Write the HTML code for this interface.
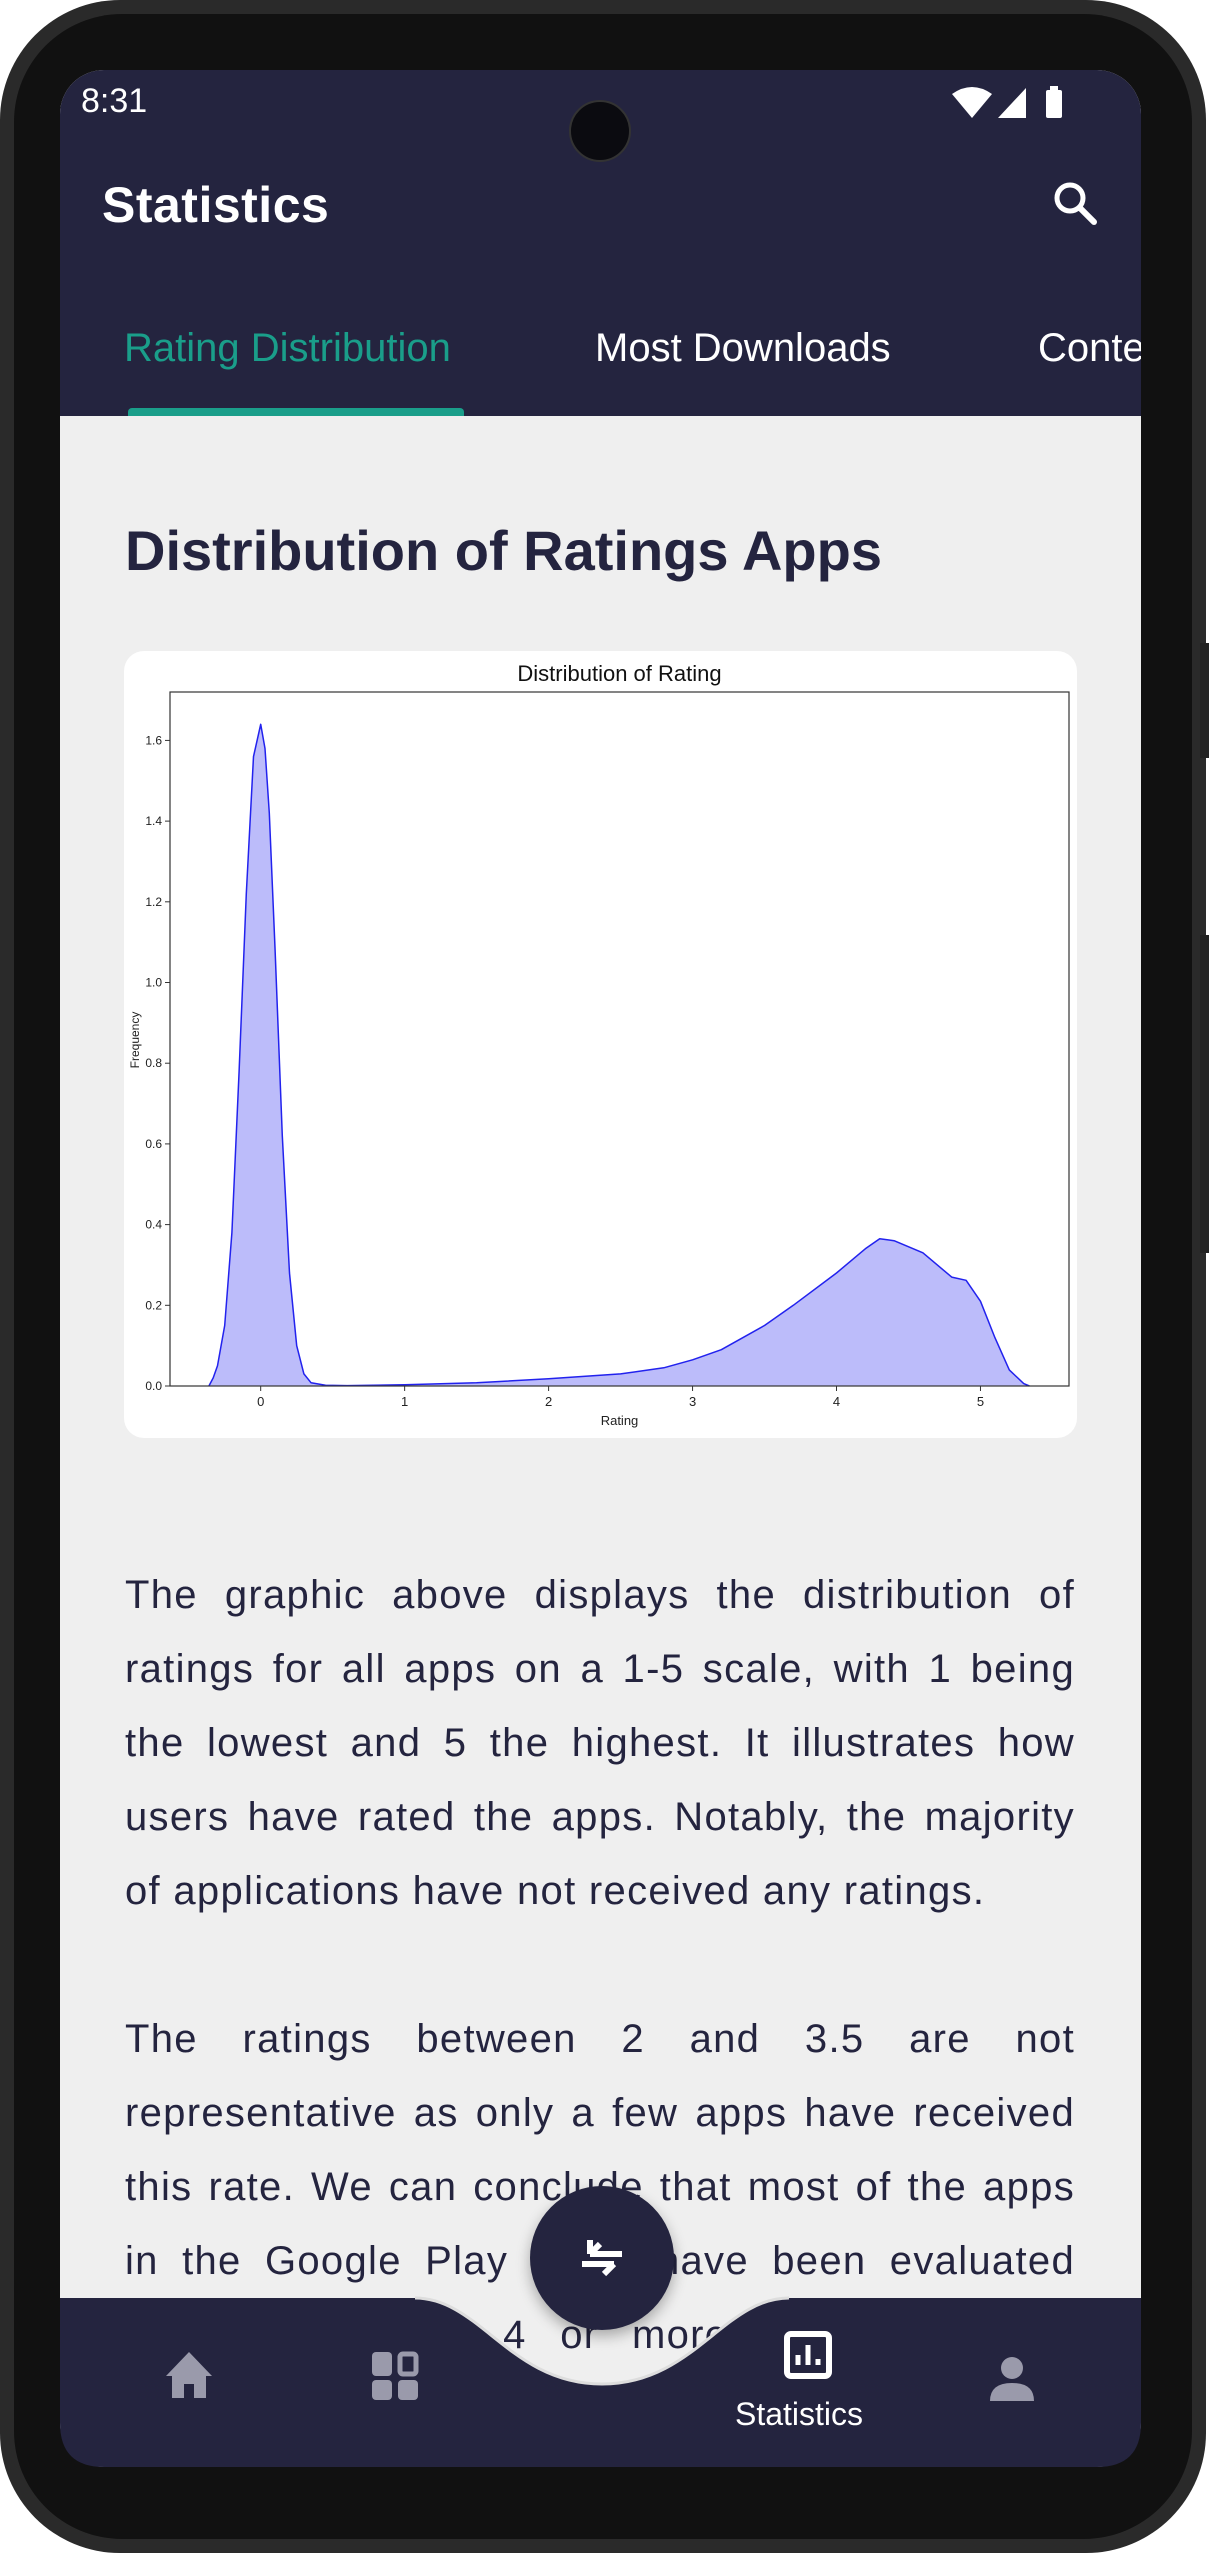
<!DOCTYPE html>
<html><head><meta charset="utf-8">
<style>
html,body{margin:0;padding:0;width:1209px;height:2553px;overflow:hidden;background:#fff;font-family:"Liberation Sans",sans-serif}
.abs{position:absolute}
.line{position:absolute;left:125px;width:950px;font-size:40px;color:#24243f;text-align:justify;text-align-last:justify;white-space:nowrap;line-height:48px;letter-spacing:1.3px}
</style></head><body>
<div class="abs" style="left:0;top:0;width:1206px;height:2553px;background:#2a2a2a;border-radius:120px;"></div>
<div class="abs" style="left:14px;top:14px;width:1178px;height:2525px;background:#111;border-radius:108px;"></div>
<div class="abs" style="left:1200px;top:643px;width:9px;height:115px;background:#222;"></div>
<div class="abs" style="left:1200px;top:935px;width:9px;height:318px;background:#222;"></div>

<div class="abs" style="left:60px;top:70px;width:1081px;height:2397px;background:#efefef;border-radius:44px;overflow:hidden;">
  <div class="abs" style="left:0;top:0;width:1081px;height:346px;background:#24243f;"></div>
  <div class="abs" style="left:21px;top:12px;font-size:34px;color:#fff;">8:31</div>
  <div class="abs" style="left:509px;top:30px;width:62px;height:62px;border-radius:50%;background:#0b0b10;border:2px solid #333;box-sizing:border-box"></div>
  <svg class="abs" style="left:890px;top:14px" width="120" height="40">
    <path d="M2 10 Q22 -4 42 10 L22 34 Z" fill="#fff"/>
    <path d="M48 34 L76 4 L76 34 Z" fill="#fff"/>
    <rect x="96" y="6" width="16" height="28" rx="2" fill="#fff"/><rect x="100" y="2" width="8" height="5" fill="#fff"/>
  </svg>
  <div class="abs" style="left:42px;top:106px;font-size:50px;font-weight:bold;color:#fff;letter-spacing:0.5px">Statistics</div>
  <svg class="abs" style="left:990px;top:108px" width="50" height="50"><circle cx="20" cy="20" r="13" stroke="#fff" stroke-width="5" fill="none"/><line x1="30" y1="30" x2="44" y2="44" stroke="#fff" stroke-width="6" stroke-linecap="round"/></svg>
  <div class="abs" style="left:64px;top:256px;font-size:40px;color:#1a9e8a;">Rating Distribution</div>
  <div class="abs" style="left:68px;top:338px;width:336px;height:8px;background:#1a9e8a;border-radius:4px 4px 0 0"></div>
  <div class="abs" style="left:535px;top:256px;font-size:40px;color:#fff;">Most Downloads</div>
  <div class="abs" style="left:978px;top:256px;font-size:40px;color:#fff;white-space:nowrap">Content Rating</div>

  <div class="abs" style="left:65px;top:448px;font-size:56px;font-weight:bold;color:#24243f;">Distribution of Ratings Apps</div>

  <div class="abs" style="left:64px;top:581px;width:953px;height:787px;background:#fff;border-radius:20px;"></div>
</div>

<svg class="abs" id="chart" style="left:0;top:0" width="1209" height="1500"></svg>

<div>
<div class="line" style="top:1571px">The graphic above displays the distribution of</div>
<div class="line" style="top:1645px">ratings for all apps on a 1-5 scale, with 1 being</div>
<div class="line" style="top:1719px">the lowest and 5 the highest. It illustrates how</div>
<div class="line" style="top:1793px">users have rated the apps. Notably, the majority</div>
<div class="line" style="top:1867px;text-align-last:left;width:auto">of applications have not received any ratings.</div>
<div class="line" style="top:2015px">The ratings between 2 and 3.5 are not</div>
<div class="line" style="top:2089px">representative as only a few apps have received</div>
<div class="line" style="top:2163px">this rate. We can conclude that most of the apps</div>
<div class="line" style="top:2237px">in the Google Play Store have been evaluated</div>
<div class="line" style="top:2311px">with a rating of 4 or more by their users.</div>
</div>

<svg class="abs" style="left:60px;top:2290px" width="1081" height="177">
  <defs><clipPath id="sc"><path d="M0 0 H1081 V133 Q1081 177 1037 177 H44 Q0 177 0 133 Z"/></clipPath></defs>
  <g clip-path="url(#sc)">
  <path d="M0 8 H355 C420 8 450 94 542 94 C634 94 664 8 729 8 H1081 V177 H0 Z" fill="#24243f"/>
  </g>
  <path d="M355 8 C420 8 450 94 542 94 C634 94 664 8 729 8" fill="none" stroke="#ddd" stroke-width="3"/>
</svg>
<div class="abs" style="left:530px;top:2186px;width:144px;height:144px;border-radius:50%;background:#24243f;box-shadow:0 6px 14px rgba(0,0,0,0.3)">
  <svg width="144" height="144"><path d="M60 68 H92 M60 68 L70 58 M60 68 V54" stroke="#fff" stroke-width="6" fill="none"/><path d="M52 78 H84 M84 78 L74 88 M52 78" stroke="#fff" stroke-width="6" fill="none"/></svg>
</div>
<svg class="abs" style="left:164px;top:2350px" width="50" height="50"><path d="M25 2 L48 26 H42 V48 H30 V34 H20 V48 H8 V26 H2 Z" fill="#9a9aab"/></svg>
<svg class="abs" style="left:370px;top:2350px" width="50" height="52"><rect x="2" y="2" width="20" height="24" rx="4" fill="#9a9aab"/><rect x="30" y="4" width="16" height="20" rx="3" fill="none" stroke="#9a9aab" stroke-width="5"/><rect x="2" y="30" width="20" height="20" rx="4" fill="#9a9aab"/><rect x="28" y="30" width="20" height="20" rx="4" fill="#9a9aab"/></svg>
<svg class="abs" style="left:784px;top:2331px" width="50" height="50"><rect x="3" y="3" width="42" height="42" rx="4" fill="none" stroke="#fff" stroke-width="6"/><path d="M14 34 V24 M24 34 V14 M34 34 V28" stroke="#fff" stroke-width="5"/></svg>
<div class="abs" style="left:735px;top:2396px;font-size:32px;color:#fff;">Statistics</div>
<svg class="abs" style="left:988px;top:2355px" width="48" height="48"><circle cx="24" cy="13" r="11" fill="#9a9aab"/><path d="M2 46 Q2 28 24 28 Q46 28 46 46 Z" fill="#9a9aab"/></svg>

<script>
const xTicks = [0, 1, 2, 3, 4, 5];
const yTicks = [0.0, 0.2, 0.4, 0.6, 0.8, 1.0, 1.2, 1.4, 1.6];
const ratingX = [-0.36,-0.33,-0.3,-0.25,-0.2,-0.15,-0.1,-0.05,0,0.03,0.06,0.1,0.15,0.2,0.25,0.3,0.35,0.45,0.6,1.0,1.5,2.0,2.5,2.8,3.0,3.2,3.5,3.7,4.0,4.2,4.3,4.4,4.6,4.8,4.9,5.0,5.1,5.2,5.3,5.34];
const density = [0.0,0.02,0.05,0.15,0.38,0.78,1.22,1.56,1.64,1.58,1.42,1.08,0.62,0.28,0.1,0.03,0.008,0.002,0.001,0.003,0.008,0.018,0.03,0.045,0.065,0.09,0.15,0.2,0.28,0.34,0.365,0.36,0.33,0.27,0.262,0.21,0.12,0.04,0.006,0.0];
const NS='http://www.w3.org/2000/svg';
const svg=document.getElementById('chart');
const L=170,R=1069,T=692,B=1386,xmin=-0.63,xmax=5.615,ymax=1.72;
function xs(v){return L+(v-xmin)/(xmax-xmin)*(R-L);}
function ys(v){return B-v/ymax*(B-T);}
function mk(tag,attrs,txt){const e=document.createElementNS(NS,tag);for(const k in attrs)e.setAttribute(k,attrs[k]);if(txt!==undefined)e.textContent=txt;svg.appendChild(e);return e;}
let d='M'+xs(ratingX[0])+' '+ys(0);
ratingX.forEach((v,i)=>{d+=' L'+xs(v).toFixed(1)+' '+ys(density[i]).toFixed(1);});
d+=' L'+xs(ratingX[ratingX.length-1])+' '+ys(0)+' Z';
const area=mk('path',{d:d,fill:'#bcbcfa',stroke:'none'});


let ld='';
ratingX.forEach((v,i)=>{ld+=(i?' L':'M')+xs(v).toFixed(1)+' '+ys(density[i]).toFixed(1);});
const line=mk('path',{d:ld,fill:'none',stroke:'#2222ee','stroke-width':1.5,'stroke-linejoin':'round'});


const frame=mk('rect',{x:L,y:T,width:R-L,height:B-T,fill:'none',stroke:'#333','stroke-width':1.2});


xTicks.forEach(t=>{
  const tk=mk('line',{x1:xs(t),x2:xs(t),y1:B,y2:B+5,stroke:'#333'});
  
  
  const lb=mk('text',{x:xs(t),y:B+20,'font-size':13,'text-anchor':'middle',fill:'#222','font-family':'Liberation Sans, sans-serif'},String(t));
  
  
});
yTicks.forEach(t=>{
  const tk=mk('line',{x1:L-5,x2:L,y1:ys(t),y2:ys(t),stroke:'#333'});
  
  
  const lb=mk('text',{x:L-8,y:ys(t)+4,'font-size':12,'text-anchor':'end',fill:'#222','font-family':'Liberation Sans, sans-serif'},t.toFixed(1));
  
  
});
const ti=mk('text',{x:(L+R)/2,y:681,'font-size':22,'text-anchor':'middle',fill:'#111','font-family':'Liberation Sans, sans-serif'},'Distribution of Rating');


const xl=mk('text',{x:(L+R)/2,y:1425,'font-size':13,'text-anchor':'middle',fill:'#222','font-family':'Liberation Sans, sans-serif'},'Rating');


const yl=mk('text',{x:0,y:0,'font-size':12,'text-anchor':'middle',fill:'#222','font-family':'Liberation Sans, sans-serif',transform:'translate(139,1040) rotate(-90)'},'Frequency');


</script>
</body></html>
